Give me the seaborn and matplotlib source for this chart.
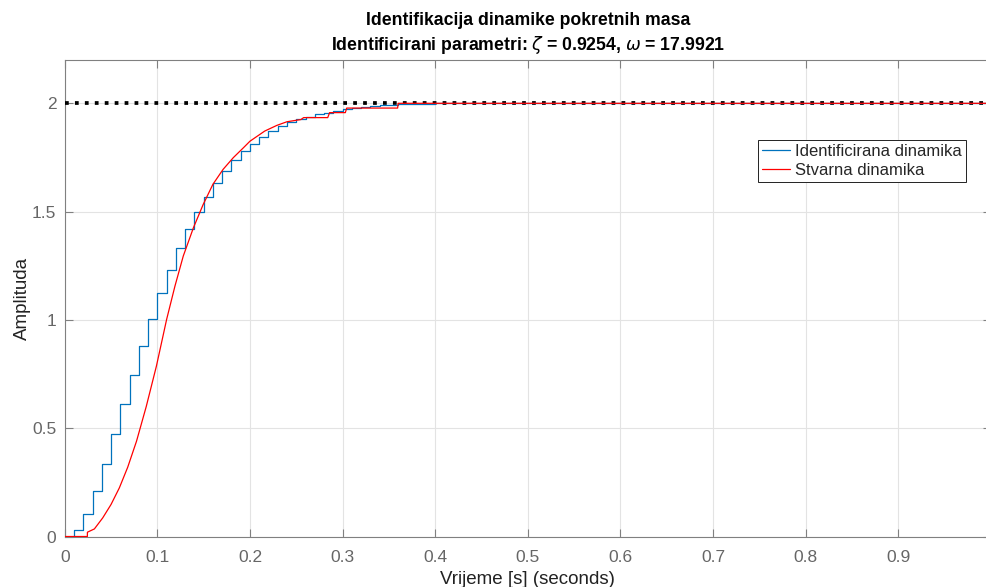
import matplotlib
matplotlib.use("Agg")
import matplotlib.pyplot as plt
import seaborn as sns
import pandas as pd

# Identified dynamics (zero-order-hold samples, T = 0.01 s)
blue_t = [0.00, 0.01, 0.02, 0.03, 0.04, 0.05, 0.06, 0.07, 0.08, 0.09,
          0.10, 0.11, 0.12, 0.13, 0.14, 0.15, 0.16, 0.17, 0.18, 0.19,
          0.20, 0.21, 0.22, 0.23, 0.24, 0.25, 0.26, 0.27, 0.28, 0.29,
          0.30, 0.31, 0.32, 0.33, 0.34, 0.35, 0.36, 0.37, 0.38, 0.40, 1.00]
blue_y = [0.000, 0.031, 0.106, 0.212, 0.336, 0.473, 0.611, 0.747, 0.879, 1.005,
          1.126, 1.232, 1.330, 1.419, 1.498, 1.569, 1.632, 1.687, 1.737, 1.778,
          1.814, 1.844, 1.872, 1.895, 1.914, 1.926, 1.938, 1.949, 1.957, 1.966,
          1.972, 1.978, 1.983, 1.987, 1.990, 1.993, 1.995, 1.997, 1.998, 2.000, 2.000]

# Real (measured) dynamics
red_t = [0.000, 0.0244, 0.0245, 0.032, 0.041, 0.050, 0.059, 0.068, 0.0775, 0.088,
         0.099, 0.110, 0.119, 0.128, 0.139, 0.1495, 0.160, 0.171, 0.182, 0.193,
         0.200, 0.216, 0.229, 0.240, 0.255, 0.258, 0.284, 0.286, 0.303, 0.3045,
         0.3595, 0.360, 1.000]
red_y = [0.000, 0.000, 0.020, 0.035, 0.086, 0.148, 0.225, 0.320, 0.440, 0.600,
         0.787, 1.002, 1.156, 1.295, 1.426, 1.533, 1.626, 1.695, 1.749, 1.795,
         1.825, 1.872, 1.898, 1.915, 1.925, 1.934, 1.934, 1.957, 1.957, 1.978,
         1.978, 2.000, 2.000]

ref_t = [0.0, 1.0]
ref_y = [2.0, 2.0]

x_ticks = [0, 0.1, 0.2, 0.3, 0.4, 0.5, 0.6, 0.7, 0.8, 0.9]
x_labels = ["0", "0.1", "0.2", "0.3", "0.4", "0.5", "0.6", "0.7", "0.8", "0.9"]
y_ticks = [0, 0.5, 1, 1.5, 2]
y_labels = ["0", "0.5", "1", "1.5", "2"]

sns.set_theme(style="white")
plt.rcParams["font.family"] = ["Liberation Sans", "DejaVu Sans"]
plt.rcParams["mathtext.fontset"] = "dejavusans"

fig = plt.figure(figsize=(9.87, 5.87), dpi=100)
ax = fig.add_axes([0.0656, 0.0860, 0.9382, 0.8118])

df_ref = pd.DataFrame({"t": ref_t, "y": ref_y})
df_blue = pd.DataFrame({"t": blue_t, "y": blue_y})
df_red = pd.DataFrame({"t": red_t, "y": red_y})

sns.lineplot(data=df_ref, x="t", y="y", ax=ax, color="black", linestyle=":",
             linewidth=2.7, estimator=None, sort=False, zorder=3)
sns.lineplot(data=df_blue, x="t", y="y", ax=ax, color="#0072BD", linewidth=0.9,
             drawstyle="steps-post", estimator=None, sort=False, zorder=4,
             label="Identificirana dinamika")
sns.lineplot(data=df_red, x="t", y="y", ax=ax, color="#FF0000", linewidth=0.9,
             estimator=None, sort=False, zorder=5, label="Stvarna dinamika")

ax.set_xlim(0, 1.0)
ax.set_ylim(0, 2.2)
ax.set_xticks(x_ticks)
ax.set_xticklabels(x_labels)
ax.set_yticks(y_ticks)
ax.set_yticklabels(y_labels)

ax.grid(True, color="#e3e3e3", linewidth=0.8)
ax.set_axisbelow(True)
for s in ax.spines.values():
    s.set_color("#808080")
    s.set_linewidth(0.8)
ax.tick_params(axis="both", direction="in", length=6, width=0.8, color="#808080",
               labelsize=12.5, labelcolor="#666666",
               top=True, right=True, bottom=True, left=True)
ax.tick_params(axis="x", pad=10)
ax.tick_params(axis="y", pad=6)

ax.set_xlabel("Vrijeme [s] (seconds)", fontsize=13.5, color="#222222", labelpad=4)
ax.set_ylabel("Amplituda", fontsize=13.5, color="#222222", labelpad=1)
ax.set_title("Identifikacija dinamike pokretnih masa\n"
             "Identificirani parametri: $\\zeta$ = 0.9254, $\\omega$ = 17.9921",
             fontsize=12.7, fontweight="bold", color="black", pad=7, linespacing=1.3)

leg = ax.legend(loc="upper right", bbox_to_anchor=(0.9733, 0.832), fontsize=12,
                frameon=True, fancybox=False, shadow=False, framealpha=1,
                edgecolor="#222222", handlelength=1.7, handletextpad=0.3,
                labelspacing=0.2, borderpad=0.25, borderaxespad=0)
leg.get_frame().set_linewidth(0.7)

fig.savefig("out.png", dpi=100)
